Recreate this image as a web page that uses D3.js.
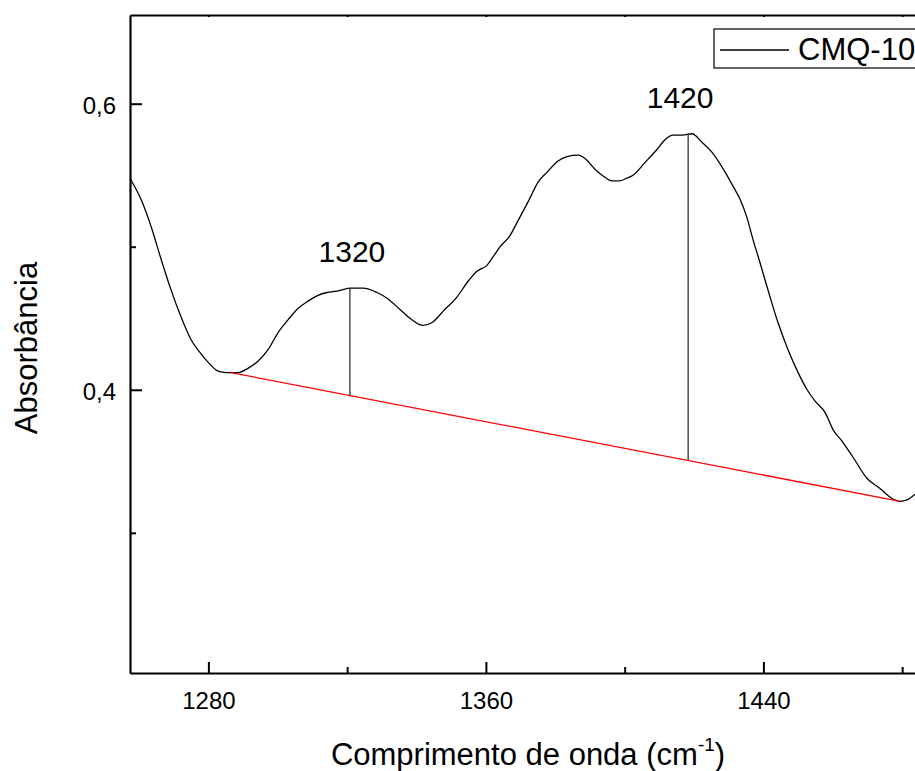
<!DOCTYPE html>
<html>
<head>
<meta charset="utf-8">
<script src="https://cdn.jsdelivr.net/npm/d3@7"></script>
<style>
  body { margin: 0; background: #fff; }
  text { font-family: "Liberation Sans", Arial, sans-serif; fill: #000; }
</style>
</head>
<body>
<div id="chart"></div>
<script>
const width = 915;
const height = 771;

// spectrum (wavenumber cm-1, absorbance)
const wavenumber = [1257.6, 1260.6, 1263.5, 1266.4, 1269.2, 1272.1, 1275.0, 1277.6, 1280.0, 1282.8,
    1285.1, 1288.6, 1291.4, 1294.3, 1297.2, 1300.1, 1303.0, 1305.9, 1308.7, 1311.6,
    1314.2, 1317.1, 1320.8, 1324.6, 1328.6, 1331.5, 1335.3, 1338.1, 1341.9, 1344.5,
    1347.7, 1351.7, 1354.6, 1357.5, 1360.3, 1362.1, 1364.1, 1367.0, 1369.0, 1372.7,
    1375.0, 1377.6, 1380.8, 1383.4, 1386.6, 1388.9, 1391.5, 1393.5, 1396.4, 1398.4,
    1400.7, 1402.4, 1405.9, 1409.3, 1411.7, 1414.0, 1416.6, 1419.4, 1422.3, 1425.2,
    1429.0, 1431.3, 1433.3, 1435.3, 1437.0, 1439.0, 1441.9, 1444.2, 1447.1, 1450.0,
    1452.6, 1454.9, 1457.8, 1460.1, 1462.7, 1465.8, 1469.9, 1473.6, 1477.1, 1479.4,
    1481.4, 1483.7];
const absorbance = [0.547, 0.533, 0.514, 0.491, 0.470, 0.451, 0.435, 0.426, 0.419, 0.413,
    0.412, 0.412, 0.415, 0.420, 0.428, 0.440, 0.449, 0.457, 0.462, 0.466,
    0.468, 0.469, 0.471, 0.471, 0.468, 0.464, 0.456, 0.450, 0.445, 0.447,
    0.455, 0.465, 0.475, 0.483, 0.487, 0.493, 0.500, 0.508, 0.517, 0.534,
    0.545, 0.552, 0.560, 0.563, 0.564, 0.561, 0.554, 0.550, 0.546, 0.546,
    0.548, 0.550, 0.559, 0.568, 0.575, 0.578, 0.578, 0.579, 0.573, 0.566,
    0.552, 0.542, 0.533, 0.520, 0.505, 0.489, 0.465, 0.447, 0.428, 0.412,
    0.400, 0.392, 0.384, 0.372, 0.364, 0.353, 0.338, 0.331, 0.324, 0.322,
    0.323, 0.327];

// baseline drawn in red
const baselineX = [1286.5, 1479.4];
const baselineY = [0.412, 0.322];

// marked peaks
const peakX = [1320.8, 1418.3];
const peakY = [0.471, 0.579];
const peakLabels = ['1320', '1420'];

const xMajor = [1280, 1360, 1440];
const xMinor = [1320, 1400, 1480];
const yMajor = [0.4, 0.6];
const yMinor = [0.3, 0.5];

const seriesName = 'CMQ-10';

const margin = { left: 130, top: 15, bottom: 673, right: 915 };

const x = d3.scaleLinear().domain([1257.4, 1483.7]).range([margin.left, margin.right]);
const y = d3.scaleLinear().domain([0.202, 0.662]).range([margin.bottom, margin.top]);

const svg = d3.select('#chart')
    .append('svg')
    .attr('width', width)
    .attr('height', height);

svg.append('rect').attr('width', width).attr('height', height).attr('fill', '#fff');

const comma = d => d3.format('.1f')(d).replace('.', ',');

// bottom axis
const xAxis = svg.append('g')
    .attr('transform', `translate(0,${margin.bottom})`)
    .call(d3.axisBottom(x).tickValues(xMajor).tickSizeInner(-11).tickSizeOuter(0).tickPadding(19).tickFormat(d3.format('d')));
svg.append('g')
    .attr('transform', `translate(0,${margin.bottom})`)
    .call(d3.axisBottom(x).tickValues(xMinor).tickSizeInner(-6).tickSizeOuter(0).tickFormat(''))
    .select('.domain').remove();

// left axis
const yAxis = svg.append('g')
    .attr('transform', `translate(${margin.left},0)`)
    .call(d3.axisLeft(y).tickValues(yMajor).tickSizeInner(-12).tickSizeOuter(0).tickPadding(14).tickFormat(comma));
svg.append('g')
    .attr('transform', `translate(${margin.left},0)`)
    .call(d3.axisLeft(y).tickValues(yMinor).tickSizeInner(-6).tickSizeOuter(0).tickFormat(''))
    .select('.domain').remove();

// top axis
svg.append('g')
    .attr('transform', `translate(0,${margin.top})`)
    .call(d3.axisTop(x).tickValues(xMajor.concat(xMinor)).tickSizeInner(-2).tickSizeOuter(0).tickFormat(''));

svg.selectAll('.domain').attr('stroke', '#000').attr('stroke-width', 2.2);
svg.selectAll('.tick line').attr('stroke', '#000').attr('stroke-width', 2);
xAxis.selectAll('text').attr('font-size', 24).attr('font-family', '"Liberation Sans", Arial, sans-serif');
yAxis.selectAll('text').attr('font-size', 24).attr('dy', '0.4em').attr('font-family', '"Liberation Sans", Arial, sans-serif');

// spectrum
const points = wavenumber.map((w, i) => [w, absorbance[i]]);
const line = d3.line()
    .x(d => x(d[0]))
    .y(d => y(d[1]))
    .curve(d3.curveMonotoneX);

svg.append('path')
    .datum(points)
    .attr('d', line)
    .attr('fill', 'none')
    .attr('stroke', '#000')
    .attr('stroke-width', 1.3);

// baseline
svg.append('line')
    .attr('x1', x(baselineX[0])).attr('y1', y(baselineY[0]))
    .attr('x2', x(baselineX[1])).attr('y2', y(baselineY[1]))
    .attr('stroke', 'red')
    .attr('stroke-width', 1.3);

const baseAt = w => baselineY[0] + (w - baselineX[0]) / (baselineX[1] - baselineX[0]) * (baselineY[1] - baselineY[0]);

// peak height lines and labels
svg.selectAll('.peak')
    .data(peakX)
    .join('line')
    .attr('class', 'peak')
    .attr('x1', d => x(d)).attr('x2', d => x(d))
    .attr('y1', (d, i) => y(peakY[i]))
    .attr('y2', d => y(baseAt(d)))
    .attr('stroke', '#222')
    .attr('stroke-width', 1.2);

svg.selectAll('.peak-label')
    .data(peakLabels)
    .join('text')
    .attr('class', 'peak-label')
    .attr('x', (d, i) => x(peakX[i]) + (i === 0 ? 2 : -8))
    .attr('y', (d, i) => y(peakY[i]) - 26)
    .attr('text-anchor', 'middle')
    .attr('font-size', 30)
    .text(d => d);

// legend
const legend = svg.append('g');
legend.append('rect')
    .attr('x', 714).attr('y', 29)
    .attr('width', 230).attr('height', 39)
    .attr('fill', '#fff')
    .attr('stroke', '#000')
    .attr('stroke-width', 1.2);
legend.append('line')
    .attr('x1', 720).attr('x2', 789)
    .attr('y1', 50).attr('y2', 50)
    .attr('stroke', '#000')
    .attr('stroke-width', 1.3);
legend.append('text')
    .attr('x', 798).attr('y', 60)
    .attr('font-size', 31)
    .text(seriesName);

// axis titles
const xTitle = svg.append('text')
    .attr('x', 528).attr('y', 765)
    .attr('text-anchor', 'middle')
    .attr('font-size', 31);
xTitle.append('tspan').text('Comprimento de onda (cm');
xTitle.append('tspan').attr('font-size', 19).attr('dy', -14).text('-1');
xTitle.append('tspan').attr('dy', 14).text(')');

svg.append('text')
    .attr('transform', 'translate(37,348) rotate(-90)')
    .attr('text-anchor', 'middle')
    .attr('font-size', 31)
    .text('Absorbância');
</script>
</body>
</html>
